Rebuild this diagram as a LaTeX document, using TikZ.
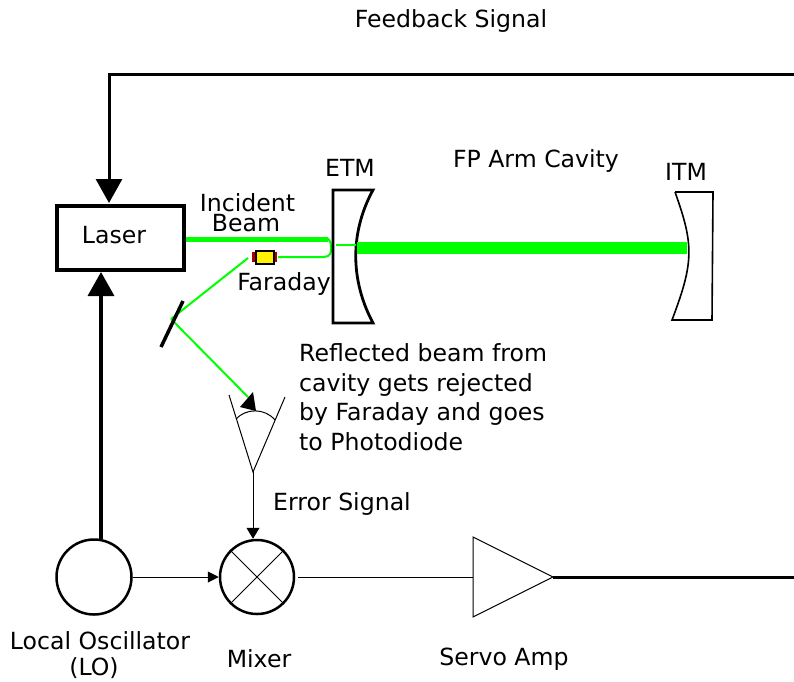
\documentclass[tikz,border=0pt]{standalone}
\usepackage{fontspec}
\setmainfont{DejaVu Sans}
\usetikzlibrary{arrows.meta}
\definecolor{beam}{RGB}{0,255,0}
\lineskiplimit=-30pt
\tikzset{
  lbl/.style={inner sep=0pt,font=\fontsize{23.6}{29.6}\selectfont},
  bigtip/.style={-{Triangle[length=24pt,width=26pt]}},
  smalltip/.style={-{Triangle[length=11pt,width=11pt]}},
  thinline/.style={draw=black,line width=1pt},
  thickline/.style={draw=black,line width=3pt},
  thinbeam/.style={draw=beam,line width=2pt},
}
\begin{document}
\begin{tikzpicture}[x=1pt,y=-1pt]
\useasboundingbox (0,0) rectangle (794,681);
% named geometry
\node[draw=black,line width=4pt,minimum width=127pt,minimum height=64pt,inner sep=0pt] (laser) at (120.5,237.5) {};
\node[circle,draw=black,line width=2.5pt,minimum size=75pt,inner sep=0pt] (lo) at (94,577) {};
\node[circle,draw=black,line width=2.5pt,minimum size=74pt,inner sep=0pt] (mixer) at (257,577) {};
\coordinate (fbstart) at (794,74);
\coordinate (fbcorner) at (109,74);
\coordinate (fbend) at (109,203);
\coordinate (loup) at (101,539);
\coordinate (laserin) at (101,272);
\coordinate (pdtip) at (253,472);
\coordinate (mirrorhit) at (171,319);
\coordinate (servoL) at (473,577);
\coordinate (servoR) at (553,577);
\coordinate (outR) at (794,577);
% feedback
\draw[thickline,bigtip] (fbstart) -- (fbcorner) -- (fbend);
\draw[thickline,bigtip,line width=3.5pt] (loup) -- (laserin);
% beams
\draw[draw=beam,line width=5pt] (186,239) -- (328,239);
\draw[thinbeam] (278,257) -- (324,257) .. controls (330,257) and (332,252) .. (331,247) .. controls (331,243) and (330,240) .. (327,238);
\draw[thinbeam] (248,258) -- (mirrorhit);
% ETM
\draw[line width=2.8pt,line join=miter] (333,190) -- (373,190) .. controls (350,232) and (350,280) .. (373,323) -- (333,323) -- cycle;
\draw[thinbeam,line width=2.5pt] (336,245) -- (356,245);
% ITM
\draw[line width=1.6pt] (675,192) -- (713,192) -- (712,320) -- (672,320) .. controls (694,262) and (694,245) .. (675,192);
% cavity beam
\draw[draw=beam,line width=12pt] (357,248) -- (687,248);
% faraday
\fill[fill={rgb,255:red,170;green,0;blue,0}] (252,252) rectangle (256,262);
\fill[fill={rgb,255:red,170;green,0;blue,0}] (273,252) rectangle (277,262);
\node[draw=black,fill=yellow,line width=2pt,minimum width=18pt,minimum height=13pt,inner sep=0pt] (faraday) at (264.5,257) {};
% mirror
\draw[thinbeam] (mirrorhit) -- (248,397);
\draw[line width=3.5pt] (183,301) -- (161,347);
% photodiode
\draw[thinline] (229,395) -- (pdtip) -- (285,397);
\draw[thinline] (236,419) .. controls (246,408) and (265,408) .. (275,420);
\draw[draw=none,fill=black] (256,411) -- (240,407) -- (253,392) -- cycle;
% signal
\draw[thinline,-{Triangle[length=11pt,width=13pt]}] (pdtip) -- (pdtip |- mixer.north);
\draw[thinline,smalltip] (lo.east) -- (mixer.west);
\draw[thinline] (mixer.45) -- (mixer.225);
\draw[thinline] (mixer.135) -- (mixer.315);
\draw[thinline] (298,577) -- (servoL);
\draw[thinline] (servoL |- 0,537) -- (servoR) -- (servoL |- 0,617) -- cycle;
\draw[line width=3pt] (servoR) -- (outR);
% labels
\node[lbl] (t0) at (114,235) {Laser};
\node[lbl] (t1) at (451,21) {Feedback Signal};
\node[lbl] (t2) at (350,168) {ETM};
\node[lbl] (t3) at (536,161) {FP Arm Cavity};
\node[lbl] (t4) at (686,172) {ITM};
\node[lbl,align=center,font=\fontsize{23.6}{20}\selectfont] (t5) at (247.5,213) {Incident\\Beam\hspace*{3pt}};
\node[lbl] (t7) at (284,284) {Faraday};
\node[lbl,anchor=west,align=left] (t8) at (299,397) {Reflected beam from\\cavity gets rejected\\by Faraday and goes\\to Photodiode};
\node[lbl] (t9) at (342,504) {Error Signal};
\node[lbl] (t10) at (100,641) {Local Oscillator};
\node[lbl] (t11) at (94,668) {(LO)};
\node[lbl] (t12) at (259,659) {Mixer};
\node[lbl] (t13) at (504,659) {Servo Amp};
\end{tikzpicture}
\end{document}
